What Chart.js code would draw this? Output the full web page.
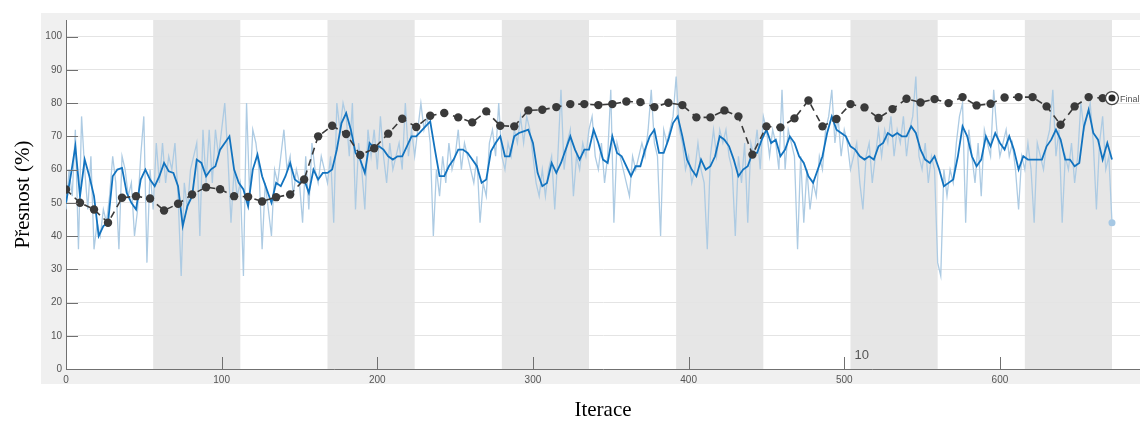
<!DOCTYPE html>
<html lang="cs">
<head>
<meta charset="UTF-8">
<title>Přesnost tréninku</title>
<script src="https://cdn.jsdelivr.net/npm/chart.js@4"></script>
<style>
  body { margin: 0; background: #fff; }
  #wrap { width: 1140px; height: 424px; }
</style>
</head>
<body>
<div id="wrap"><canvas id="acc" width="1140" height="424"></canvas></div>
<script>
// training run: 12 epochs of 56 iterations
const iterPerEpoch = 56;
const epochCount = 12;
const epochMark = "10";
const epochMarkIter = 504;

// raw mini-batch accuracy, one value every 2 iterations (0..672)
const rawStep = 2;
const rawAcc = [
  48,60,52,72,36,76,60,48,64,36,
  44,40,48,44,52,64,56,36,64,60,
  52,56,40,48,64,76,32,60,48,68,
  56,68,56,64,60,68,52,28,56,48,
  60,64,68,40,72,56,72,56,72,64,
  72,80,64,44,60,52,56,28,80,52,
  72,68,60,36,56,48,40,60,56,64,
  72,60,64,52,60,56,44,64,48,68,
  60,56,64,60,56,64,44,80,72,80,
  76,64,80,48,68,60,48,72,64,72,
  60,76,64,56,68,60,64,68,60,80,
  64,72,64,72,80,72,76,68,40,60,
  52,64,56,68,60,64,72,60,68,64,
  60,56,64,44,56,52,68,72,64,80,
  64,60,68,64,72,68,76,68,76,72,
  64,56,52,60,52,60,64,48,64,84,
  60,68,72,52,64,60,68,64,72,76,
  64,60,68,56,64,84,44,68,64,60,
  56,52,64,60,64,68,64,72,84,68,
  64,40,72,68,72,76,88,72,68,60,
  64,56,60,68,60,56,36,64,72,64,
  72,68,72,64,60,40,64,56,68,44,
  68,64,72,60,76,72,64,72,68,60,
  84,60,72,68,64,36,64,44,60,48,
  56,52,64,60,72,76,84,68,76,64,
  72,68,60,64,68,56,48,64,68,56,
  64,72,64,72,68,76,64,72,68,76,
  64,72,76,88,64,60,68,56,64,60,
  32,28,60,52,60,56,68,76,80,44,
  72,64,56,68,52,72,68,64,84,72,
  64,68,72,64,68,60,48,64,60,68,
  60,44,68,64,60,68,72,84,64,72,
  44,64,60,68,56,64,80,72,76,80,
  68,48,68,76,60,64,44
];

// smoothed accuracy, one value every 3 iterations (0..672)
const smoothStep = 3;
const smoothAcc = [
  50,58,67,52,63,58,52,40,43,44,
  58,60,60.5,53,50,48,57,60,57,55,
  58,62,59.5,59,55,43,49,52,63,62,
  58,60,61,66,68,70,60,56,54,49,
  60,64.5,58,54,50,56,55,58,62,57,
  56,57,53,60,57,59,59,60,66,74,
  77,72,65,63,59,68,66.5,67,66,64,
  63,64,64,67,70,70,71.5,73,74.5,66,
  58,58,61,63,66,66,65,63,61,56,
  57,65.5,68,70,64,64,70,71,71.5,72,
  68,59,55,56,62,59,62,66,70,66,
  63,66,66,72,68,63,62,70,65,64,
  61,58,61,61,66,70,72,65,65,69,
  74,76,70,63,60,58,63,60,61,64,
  70,69,67,63,58,60,61,65,65,69,
  72,68,69,64,66,70,68,64,62,58,
  56,60,64,71,76,72,71,70,67,66,
  64,63,64,63,67,68,71,70,71,70,
  70,73,71,66,63,62,64,60,55,56,
  57,64,73,70,64,61,63,70,67,71,
  68,66,70,66,60,64,63,63,63,63,
  67,69,72,69,63,63,61,62,73,78,
  71,69,63,68,63
];

// validation accuracy, every 9 iterations (0..666), plus the final value
const valStep = 9;
const valAcc = [
  54,50,48,44,51.5,52,51.3,47.7,49.7,52.5,
  54.7,54.1,52,51.8,50.4,51.7,52.5,57,70,73.2,
  70.7,64.4,66.4,70.8,75.3,72.8,76.2,77,75.7,74.2,
  77.5,73.2,73,77.8,78,78.8,79.7,79.7,79.4,79.7,
  80.5,80.3,78.8,80.1,79.4,75.7,75.7,77.8,76,64.5,
  73,72.7,75.4,80.8,73,75.2,79.7,78.7,75.5,78.2,
  81.3,80.2,81.2,80,81.8,79.3,79.8,81.7,81.8,81.8,
  79,73.5,79,81.8,81.5
];
const finalIter = 672;
const finalAcc = 81.5;

const yTicks = [0,10,20,30,40,50,60,70,80,90,100];
const xTicks = [0,100,200,300,400,500,600];

const toXY = (arr, step) => arr.map((v, i) => ({ x: i * step, y: v }));

const backdrop = {
  id: 'backdrop',
  beforeDraw(chart) {
    const { ctx, chartArea: a, scales: { x } } = chart;
    ctx.save();
    ctx.fillStyle = '#f0f0f0';
    ctx.fillRect(41, 13, chart.width - 41, 371);
    ctx.fillStyle = '#ffffff';
    ctx.fillRect(a.left, a.top, a.right - a.left, a.bottom - a.top);
    ctx.fillStyle = '#e6e6e6';
    for (let e = 1; e < epochCount; e += 2) {
      const x0 = x.getPixelForValue(e * iterPerEpoch);
      const x1 = x.getPixelForValue((e + 1) * iterPerEpoch);
      ctx.fillRect(x0, a.top, x1 - x0, a.bottom - a.top);
    }
    ctx.restore();
  }
};

const marks = {
  id: 'marks',
  afterDraw(chart) {
    const { ctx, chartArea: a, scales: { x, y } } = chart;
    ctx.save();
    ctx.strokeStyle = '#707070';
    ctx.lineWidth = 1;
    ctx.beginPath();
    yTicks.forEach(v => {
      const py = Math.round(y.getPixelForValue(v)) + 0.5;
      ctx.moveTo(a.left, py); ctx.lineTo(a.left + 12, py);
    });
    xTicks.slice(1).forEach(v => {
      const px = Math.round(x.getPixelForValue(v)) + 0.5;
      ctx.moveTo(px, a.bottom); ctx.lineTo(px, a.bottom - 12);
    });
    ctx.stroke();

    ctx.fillStyle = '#555';
    ctx.font = '13px "Liberation Sans", Arial, sans-serif';
    ctx.textBaseline = 'middle';
    ctx.fillText(epochMark, x.getPixelForValue(epochMarkIter) + 4, a.bottom - 14);

    ctx.font = '9px "Liberation Sans", Arial, sans-serif';
    ctx.fillText('Final', x.getPixelForValue(finalIter) + 8, y.getPixelForValue(finalAcc) + 1);
    ctx.restore();
  }
};

new Chart(document.getElementById('acc'), {
  type: 'line',
  data: {
    datasets: [
      {
        label: 'Final',
        data: [{ x: finalIter, y: finalAcc }],
        showLine: false,
        pointRadius: 3.5,
        pointBackgroundColor: '#2a2a2a',
        pointBorderWidth: 0,
        order: 0
      },
      {
        label: 'Final ring',
        data: [{ x: finalIter, y: finalAcc }],
        showLine: false,
        pointRadius: 6.5,
        pointBackgroundColor: '#ffffff',
        pointBorderColor: '#444',
        pointBorderWidth: 1.2,
        order: 1
      },
      {
        label: 'Validace',
        data: toXY(valAcc, valStep),
        borderColor: '#3a3a3a',
        borderWidth: 1.6,
        borderDash: [7, 5],
        pointRadius: 4.2,
        pointBackgroundColor: '#3a3a3a',
        pointBorderWidth: 0,
        tension: 0,
        order: 2
      },
      {
        label: 'Vyhlazená přesnost',
        data: toXY(smoothAcc, smoothStep),
        borderColor: '#1273bf',
        borderWidth: 1.8,
        pointRadius: 0,
        tension: 0,
        order: 3
      },
      {
        label: 'Přesnost',
        data: toXY(rawAcc, rawStep),
        borderColor: '#adcbe3',
        borderWidth: 1.3,
        pointRadius: c => c.dataIndex === rawAcc.length - 1 ? 3.5 : 0,
        pointBackgroundColor: '#a6c8e4',
        pointBorderWidth: 0,
        tension: 0,
        order: 4
      }
    ]
  },
  options: {
    responsive: false,
    animation: false,
    events: [],
    layout: { autoPadding: false, padding: { top: 20, right: 0, bottom: 0, left: 0 } },
    plugins: { legend: { display: false }, tooltip: { enabled: false } },
    scales: {
      x: {
        type: 'linear',
        min: 0,
        max: 690,
        afterFit: s => { s.height = 55; s.paddingLeft = 0; s.paddingRight = 0; },
        afterBuildTicks: s => { s.ticks = xTicks.map(v => ({ value: v })); },
        grid: { display: false, drawTicks: false, tickLength: 0 },
        border: { display: true, color: '#707070', width: 1 },
        ticks: {
          padding: 5,
          color: '#555',
          font: { family: '"Liberation Sans", Arial, sans-serif', size: 10 },
          maxRotation: 0
        },
        title: {
          display: true,
          text: 'Iterace',
          color: '#000',
          font: { family: '"Liberation Serif", "Times New Roman", serif', size: 21 },
          padding: { top: 0, bottom: 1 }
        }
      },
      y: {
        min: 0,
        max: 105,
        afterFit: s => { s.width = 66; },
        afterBuildTicks: s => { s.ticks = yTicks.map(v => ({ value: v })); },
        grid: { color: '#e4e4e4', lineWidth: 1, drawTicks: false, tickLength: 0 },
        border: { display: true, color: '#707070', width: 1 },
        ticks: {
          padding: 4,
          color: '#555',
          font: { family: '"Liberation Sans", Arial, sans-serif', size: 10 }
        },
        title: {
          display: true,
          text: 'Přesnost (%)',
          color: '#000',
          font: { family: '"Liberation Serif", "Times New Roman", serif', size: 21 },
          padding: { top: 11, bottom: 0 }
        }
      }
    }
  },
  plugins: [backdrop, marks]
});
</script>
</body>
</html>
